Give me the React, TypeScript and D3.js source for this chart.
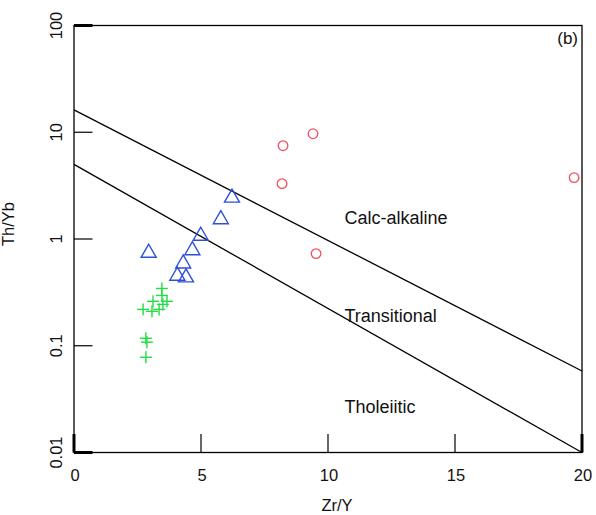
import React from "react";
import * as d3 from "d3";

// Zr/Y ratios and Th/Yb ratios for each sample group
const circleZrY = [8.23, 9.41, 8.19, 9.53, 19.69];
const circleThYb = [7.48, 9.68, 3.3, 0.73, 3.76];

const triangleZrY = [2.94, 4.07, 4.41, 4.3, 4.66, 4.99, 5.78, 6.22];
const triangleThYb = [0.776, 0.473, 0.456, 0.616, 0.82, 1.12, 1.6, 2.55];

const plusZrY = [3.46, 3.46, 3.66, 3.11, 2.72, 3.07, 3.35, 3.5, 2.83, 2.87, 2.83];
const plusThYb = [0.344, 0.296, 0.261, 0.261, 0.219, 0.21, 0.219, 0.244, 0.1175, 0.108, 0.078];

// Field boundaries: [Zr/Y, Th/Yb] end points
const upperBoundary: [number, number][] = [[0, 16.2], [20, 0.058]];
const lowerBoundary: [number, number][] = [[0, 5.0], [20, 0.01]];

const xTicks = [0, 5, 10, 15, 20];
const yTicks = [100, 10, 1, 0.1, 0.01];
const yTickLabels = ["100", "10", "1", "0.1", "0.01"];

const fieldLabels = ["Calc-alkaline", "Transitional", "Tholeiitic"];
const fieldLabelPos: [number, number][] = [[10.65, 1.37], [10.65, 0.167], [10.65, 0.0233]];

const W = 596;
const H = 515;
const left = 74;
const right = 582;
const top = 25.5;
const bottom = 452.5;

const FONT = "'Liberation Sans', Arial, sans-serif";

export default function App() {
  const x = d3.scaleLinear().domain([0, 20]).range([left, right]);
  const y = d3.scaleLog().domain([0.01, 100]).range([bottom, top]);
  const line = d3.line<[number, number]>().x((d) => x(d[0])).y((d) => y(d[1]));

  const tickLen = 18.5;
  const tri = "M0,-6.5L7.5,6.5L-7.5,6.5Z";

  return (
    <svg
      width={W}
      height={H}
      style={{ position: "absolute", left: 0, top: 0, background: "#fff" }}
      fontFamily={FONT}
    >
      {/* frame */}
      <rect x={left} y={top} width={right - left} height={bottom - top} fill="none" stroke="#000" strokeWidth={1.3} />

      {/* x ticks */}
      {xTicks.map((t, i) => (
        <g key={"xt" + t}>
          <line
            x1={x(t)}
            x2={x(t)}
            y1={bottom}
            y2={bottom - tickLen}
            stroke="#000"
            strokeWidth={i === 0 || i === xTicks.length - 1 ? 3 : 1.2}
          />
          <text x={x(t) + 1} y={481} fontSize={16.5} textAnchor="middle" fill="#111">
            {t}
          </text>
        </g>
      ))}

      {/* y ticks */}
      {yTicks.map((t, i) => (
        <g key={"yt" + t}>
          <line
            x1={left}
            x2={left + tickLen}
            y1={y(t)}
            y2={y(t)}
            stroke="#000"
            strokeWidth={i === 0 || i === yTicks.length - 1 ? 3 : 1.2}
          />
          <text
            transform={`translate(62,${y(t)}) rotate(-90)`}
            fontSize={16.5}
            textAnchor="middle"
            fill="#111"
          >
            {yTickLabels[i]}
          </text>
        </g>
      ))}

      {/* boundaries */}
      <path d={line(upperBoundary) || ""} fill="none" stroke="#000" strokeWidth={1.3} />
      <path d={line(lowerBoundary) || ""} fill="none" stroke="#000" strokeWidth={1.3} />

      {/* field names */}
      {fieldLabels.map((s, i) => (
        <text key={s} x={x(fieldLabelPos[i][0])} y={y(fieldLabelPos[i][1])} fontSize={18} fill="#111">
          {s}
        </text>
      ))}

      <text x={578} y={44} fontSize={17} textAnchor="end" fill="#111">
        (b)
      </text>

      {/* axis titles */}
      <text x={337} y={511} fontSize={16.5} textAnchor="middle" fill="#111">
        Zr/Y
      </text>
      <text transform="translate(14,224) rotate(-90)" fontSize={16.5} textAnchor="middle" fill="#111">
        Th/Yb
      </text>

      {/* samples */}
      {plusZrY.map((v, i) => (
        <g key={"p" + i} transform={`translate(${x(v)},${y(plusThYb[i])})`} stroke="#22dd44" strokeWidth={1.4}>
          <line x1={-6} x2={6} y1={0} y2={0} />
          <line x1={0} x2={0} y1={-6} y2={6} />
        </g>
      ))}
      {triangleZrY.map((v, i) => (
        <path
          key={"t" + i}
          d={tri}
          transform={`translate(${x(v)},${y(triangleThYb[i])})`}
          fill="none"
          stroke="#2f4fd6"
          strokeWidth={1.4}
        />
      ))}
      {circleZrY.map((v, i) => (
        <circle key={"c" + i} cx={x(v)} cy={y(circleThYb[i])} r={4.8} fill="none" stroke="#f0505f" strokeWidth={1.3} />
      ))}
    </svg>
  );
}
